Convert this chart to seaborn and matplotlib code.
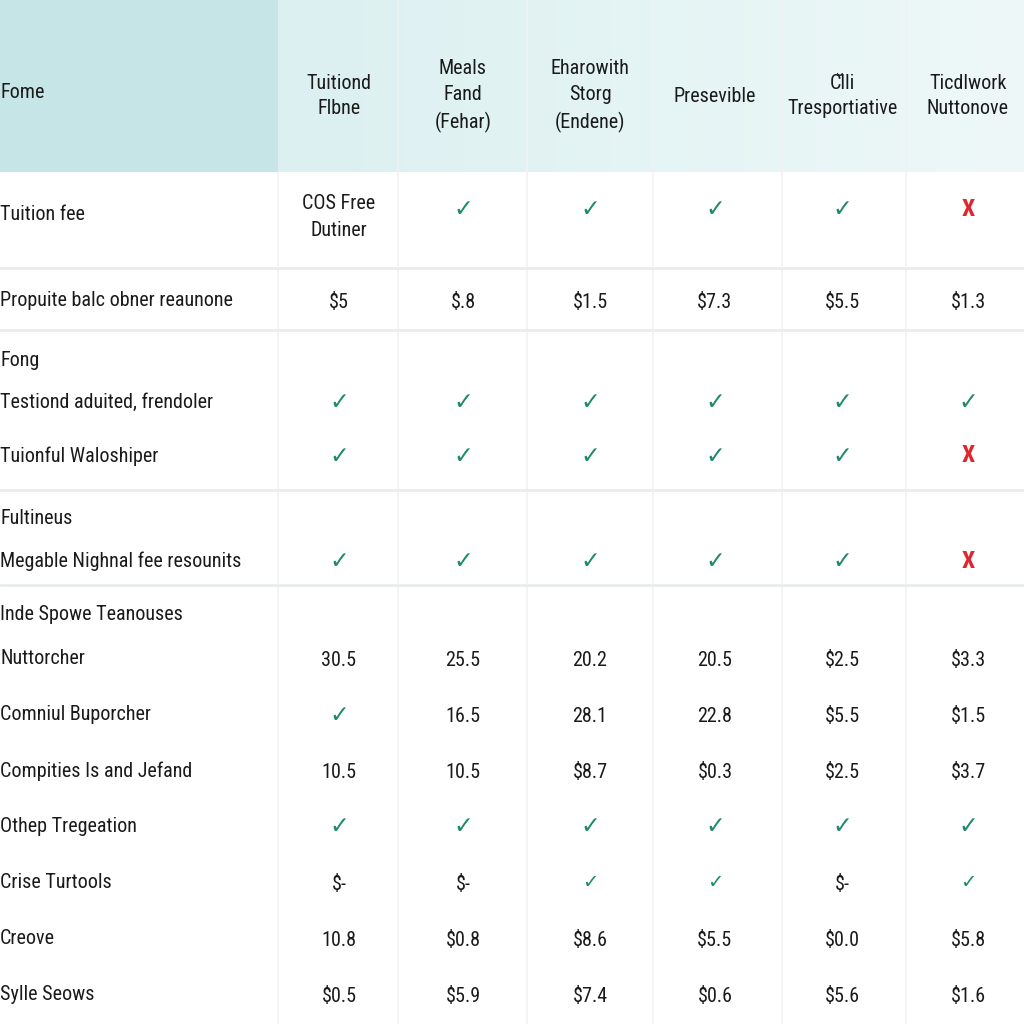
import numpy as np
import matplotlib
matplotlib.use("Agg")
import matplotlib.pyplot as plt
from matplotlib import font_manager as fm
from matplotlib.colors import LinearSegmentedColormap
import seaborn as sns

# ---------------- data ----------------
corner_label = "Fome"
col_headers = ["Tuitiond\nFlbne", "Meals\nFand\n(Fehar)", "Eharowith\nStorg\n(Endene)",
               "Presevible", "Cl\u0306li\nTresportiative", "Ticdlwork\nNuttonove"]

Y, N = "✓", "X"
row_labels = ["Tuition fee", "Propuite balc obner reaunone", "Fong",
              "Testiond aduited, frendoler", "Tuionful Waloshiper", "Fultineus",
              "Megable Nighnal fee resounits", "Inde Spowe Teanouses", "Nuttorcher",
              "Comniul Buporcher", "Compities Is and Jefand", "Othep Tregeation",
              "Crise Turtools", "Creove", "Sylle Seows"]
row_cells = [
    ["COS Free\nDutiner", Y, Y, Y, Y, N],
    ["$5", "$.8", "$1.5", "$7.3", "$5.5", "$1.3"],
    None,
    [Y, Y, Y, Y, Y, Y],
    [Y, Y, Y, Y, Y, N],
    None,
    [Y, Y, Y, Y, Y, N],
    None,
    ["30.5", "25.5", "20.2", "20.5", "$2.5", "$3.3"],
    [Y, "16.5", "28.1", "22.8", "$5.5", "$1.5"],
    ["10.5", "10.5", "$8.7", "$0.3", "$2.5", "$3.7"],
    [Y, Y, Y, Y, Y, Y],
    ["$-", "$-", Y, Y, "$-", Y],
    ["10.8", "$0.8", "$8.6", "$5.5", "$0.0", "$5.8"],
    ["$0.5", "$5.9", "$7.4", "$0.6", "$5.6", "$1.6"],
]

# ---------------- layout (pixels in a 1024 canvas) ----------------
col_x = [339, 463, 590, 715, 842, 968]
col_div = [278, 398, 527, 653, 782, 906]
row_y = [215, 300, 360, 402, 456, 518, 561, 615, 659, 715, 771, 826, 882, 939, 994]
row_div = [268, 330, 490, 585]
header_bottom = 172
small_check_rows = {12}

sns.set_theme(style="white")

names = {f.name for f in fm.fontManager.ttflist}
pref = None
for cand in ["Liberation Sans Narrow", "Roboto Condensed", "Open Sans Condensed", "DejaVu Sans Condensed"]:
    if cand in names:
        pref = cand
        break
STRETCH = "normal"
if pref is None and any(f.name == "DejaVu Sans" and f.stretch == "condensed" for f in fm.fontManager.ttflist):
    pref = "DejaVu Sans"
    STRETCH = "condensed"
if pref is None:
    pref = "Liberation Sans"
FONT = [pref, "DejaVu Sans"]
plt.rcParams["font.family"] = FONT
plt.rcParams["font.stretch"] = STRETCH
FS = 14.5 if pref != "Liberation Sans" else 13.2

fig = plt.figure(figsize=(10.24, 10.24), dpi=100)
ax = fig.add_axes([0, 0, 1, 1])
ax.set_xlim(0, 1024)
ax.set_ylim(1024, 0)
ax.axis("off")

# header background
grad = np.linspace(0, 1, 256)[None, :]
hcmap = LinearSegmentedColormap.from_list("h", ["#dcf0f1", "#eef8f8"])
ax.imshow(grad, cmap=hcmap, extent=[278, 1024, header_bottom, 0], aspect="auto", zorder=0)
ax.add_patch(plt.Rectangle((0, 0), 278, header_bottom, color="#c5e5e7", lw=0, zorder=1))

# grid lines
for x in col_div[1:]:
    ax.plot([x, x], [0, 1024], color="#f0f2f3", lw=1.2, zorder=2)
ax.plot([col_div[0], col_div[0]], [header_bottom, 1024], color="#f0f2f3", lw=1.2, zorder=2)
for y in row_div:
    ax.plot([0, 1024], [y, y], color="#e9ecec", lw=2, zorder=2)

TXT = "#1a1a1a"
ax.text(0, 93, corner_label, ha="left", va="center", fontsize=FS, color=TXT)
for x, h in zip(col_x, col_headers):
    ax.text(x, 96, h, ha="center", va="center", fontsize=FS, color=TXT, linespacing=1.45)

for i, (y, lab, cells) in enumerate(zip(row_y, row_labels, row_cells)):
    ax.text(0, y, lab, ha="left", va="center", fontsize=FS, color=TXT)
    if cells is None:
        continue
    multi = any("\n" in c for c in cells)
    for x, c in zip(col_x, cells):
        yy = y - 6 if multi else y
        if c == Y:
            small = i in small_check_rows
            ax.text(x, yy + (1 if small else 0), c, ha="center", va="center",
                    fontsize=14 if small else 17, color="#1d8a6c", family="DejaVu Sans",
                    fontweight="bold", fontstretch="normal")
        elif c == N:
            ax.text(x, yy, c, ha="center", va="center",
                    fontsize=17, color="#e0262b", fontweight="bold")
        else:
            ax.text(x, y + 2, c, ha="center", va="center", fontsize=FS, color=TXT,
                    linespacing=1.5)

fig.savefig("out.png", dpi=100)
